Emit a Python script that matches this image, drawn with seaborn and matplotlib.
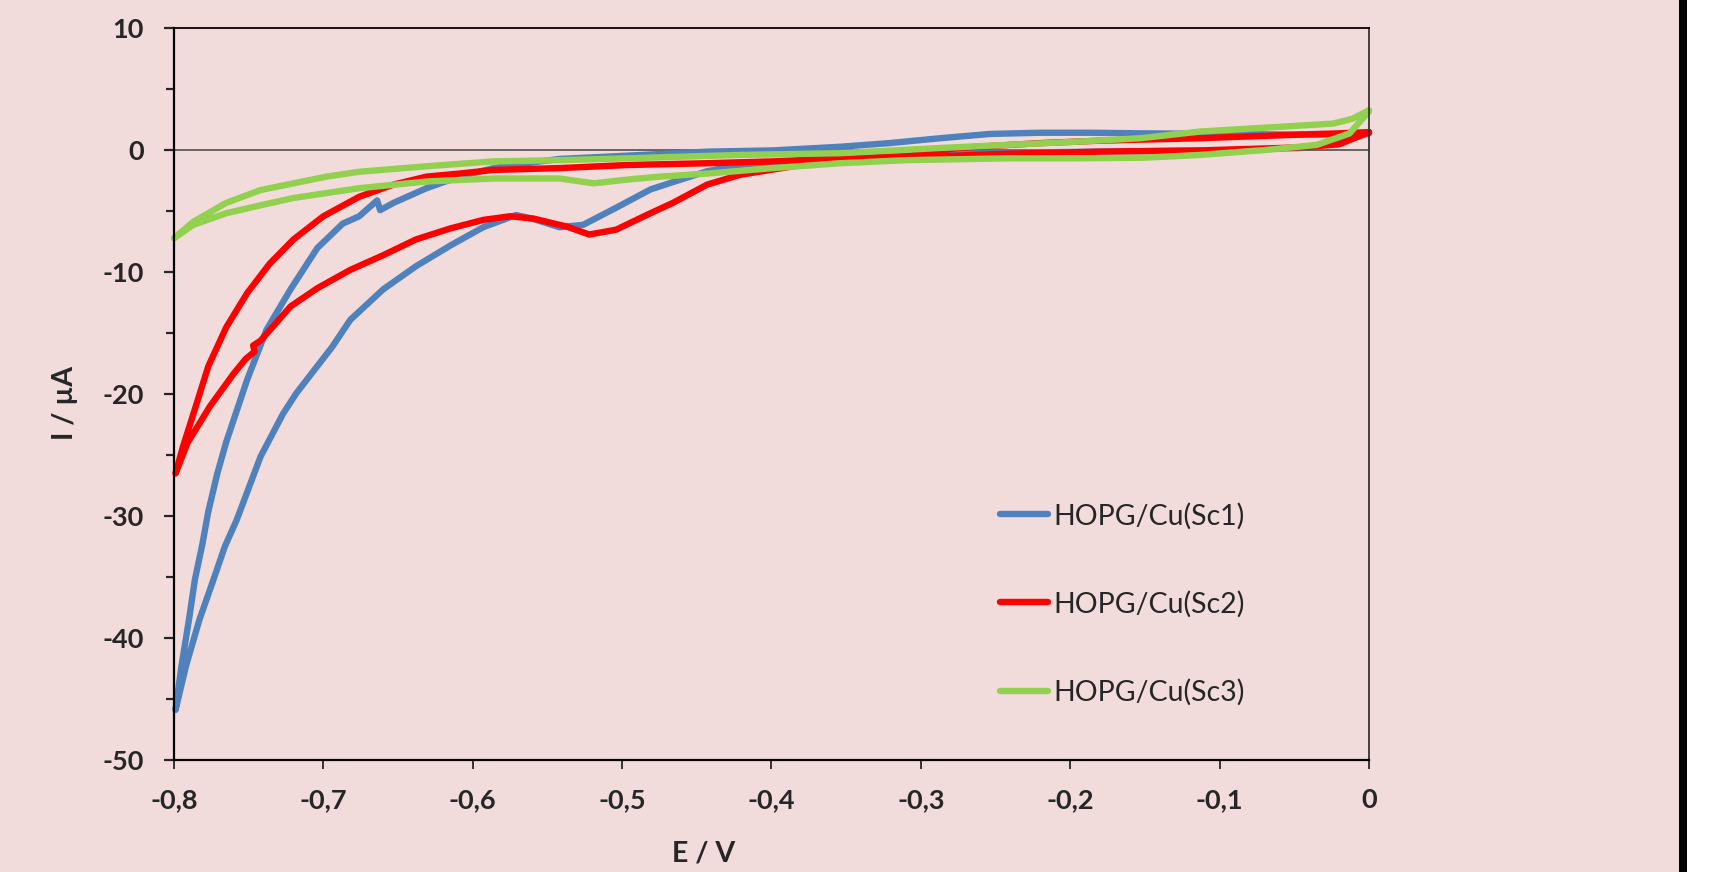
import matplotlib
matplotlib.use('Agg')
import matplotlib.pyplot as plt
from matplotlib.patches import Rectangle
from matplotlib.ticker import MultipleLocator
import pandas as pd
import seaborn as sns


# Sc1 : scan 0 -> -0.8 V, then back -0.8 -> 0 V
sc1_E = [0, -0.013, -0.046, -0.10, -0.18, -0.25, -0.30, -0.376, -0.421, -0.443, -0.466, -0.481,
         -0.504, -0.526, -0.542, -0.560, -0.571, -0.593, -0.615, -0.638, -0.660, -0.682, -0.694,
         -0.718, -0.727, -0.742, -0.758, -0.766, -0.773, -0.783, -0.792, -0.799,
         -0.795, -0.790, -0.786, -0.781, -0.777, -0.771, -0.765, -0.751, -0.738, -0.722, -0.704,
         -0.687, -0.676, -0.664, -0.662, -0.653, -0.631, -0.609, -0.586, -0.564, -0.542, -0.508,
         -0.475, -0.443, -0.399, -0.354, -0.321, -0.287, -0.254, -0.220, -0.187, -0.153, -0.10,
         -0.05, -0.024, 0]
sc1_I = [1.4, 0.9, 0.2, 0.0, -0.1, -0.2, -0.4, -0.8, -1.2, -1.7, -2.6, -3.2,
         -4.7, -6.1, -6.3, -5.6, -5.3, -6.3, -7.8, -9.5, -11.4, -13.9, -16.1,
         -19.9, -21.6, -25.1, -30.3, -32.5, -35.0, -38.5, -42.3, -45.9,
         -42.3, -38.5, -35.2, -32.3, -29.6, -26.5, -23.9, -18.8, -14.7, -11.4, -8.0,
         -6.0, -5.4, -4.1, -4.9, -4.3, -3.1, -2.15, -1.45, -1.05, -0.7, -0.5,
         -0.3, -0.1, 0.0, 0.3, 0.6, 1.0, 1.35, 1.45, 1.45, 1.4, 1.35,
         1.3, 1.3, 1.4]

sc2_E = [0, -0.013, -0.02, -0.046, -0.113, -0.18, -0.25, -0.30, -0.37, -0.421, -0.443, -0.466,
         -0.481, -0.504, -0.522, -0.537, -0.559, -0.575, -0.593, -0.615, -0.638, -0.660, -0.682,
         -0.704, -0.722, -0.742, -0.747, -0.746, -0.752, -0.760, -0.776, -0.791, -0.799,
         -0.794, -0.787, -0.777, -0.765, -0.751, -0.736, -0.720, -0.700, -0.676, -0.653, -0.631,
         -0.609, -0.586, -0.542, -0.497, -0.443, -0.399, -0.354, -0.310, -0.276, -0.220, -0.18,
         -0.113, -0.046, -0.020, 0]
sc2_I = [1.5, 0.85, 0.5, 0.25, 0.0, -0.1, -0.3, -0.55, -1.0, -2.0, -2.8, -4.3,
         -5.15, -6.5, -6.9, -6.25, -5.6, -5.4, -5.7, -6.4, -7.3, -8.6, -9.8,
         -11.3, -12.8, -15.6, -16.0, -16.5, -17.1, -18.3, -21.0, -24.0, -26.5,
         -24.3, -21.6, -17.7, -14.5, -11.7, -9.3, -7.3, -5.4, -3.8, -2.8, -2.15,
         -1.9, -1.6, -1.45, -1.2, -1.05, -0.9, -0.65, -0.5, 0.2, 0.6, 0.8,
         1.0, 1.3, 1.4, 1.5]

sc3_E = [0, -0.013, -0.035, -0.068, -0.113, -0.151, -0.198, -0.243, -0.310, -0.354, -0.399,
         -0.443, -0.475, -0.497, -0.519, -0.542, -0.586, -0.631, -0.676, -0.698, -0.720, -0.742,
         -0.765, -0.787, -0.8,
         -0.787, -0.765, -0.742, -0.720, -0.698, -0.676, -0.631, -0.586, -0.542, -0.497, -0.421,
         -0.354, -0.287, -0.243, -0.198, -0.153, -0.113, -0.058, -0.024, -0.011, 0]
sc3_I = [3.2, 1.4, 0.45, 0.05, -0.37, -0.6, -0.65, -0.65, -0.8, -1.05, -1.45,
         -1.9, -2.15, -2.4, -2.7, -2.3, -2.3, -2.55, -3.1, -3.5, -3.9, -4.5,
         -5.15, -6.1, -7.2,
         -5.85, -4.3, -3.25, -2.7, -2.15, -1.75, -1.3, -0.9, -0.8, -0.65, -0.37,
         -0.23, 0.2, 0.45, 0.7, 1.0, 1.55, 1.95, 2.2, 2.6, 3.3]

series_names = ['HOPG/Cu(Sc1)', 'HOPG/Cu(Sc2)', 'HOPG/Cu(Sc3)']
series_colors = ['#4F81BD', '#FF0000', '#92D050']

x_ticks = [-0.8, -0.7, -0.6, -0.5, -0.4, -0.3, -0.2, -0.1, 0.0]
x_tick_labels = ['-0,8', '-0,7', '-0,6', '-0,5', '-0,4', '-0,3', '-0,2', '-0,1', '0']
y_ticks = [-50, -40, -30, -20, -10, 0, 10]
y_tick_labels = ['-50', '-40', '-30', '-20', '-10', '0', '10']

frames = []
for name, E, I in zip(series_names, [sc1_E, sc2_E, sc3_E], [sc1_I, sc2_I, sc3_I]):
    frames.append(pd.DataFrame({'E': E, 'I': I, 'serie': name}))
df = pd.concat(frames, ignore_index=True)

sns.set_style('white')
plt.rcParams['font.family'] = ['Lato', 'DejaVu Sans']

W, H = 1715, 872
fig = plt.figure(figsize=(W / 100, H / 100), dpi=100)
fig.patch.set_facecolor('white')
bg = '#F2DCDB'
fig.patches.append(Rectangle((0, 0), 1679 / W, 1, transform=fig.transFigure,
                             facecolor=bg, edgecolor='none', zorder=-10))
fig.patches.append(Rectangle((1679 / W, 0), 8 / W, 1, transform=fig.transFigure,
                             facecolor='black', edgecolor='none', zorder=-9))

ax = fig.add_axes([174 / W, 1 - 760 / H, 1195 / W, 731.5 / H])
ax.set_facecolor(bg)

sns.lineplot(data=df, x='E', y='I', hue='serie', palette=series_colors, sort=False,
             estimator=None, linewidth=4.6, ax=ax)
for ln in ax.get_lines():
    ln.set_solid_capstyle('round')
    ln.set_solid_joinstyle('round')
    ln.set_clip_on(False)

ax.axhline(0, color='#444444', linewidth=1.1, zorder=1)

ax.set_xlim(-0.8, 0)
ax.set_ylim(-50, 10)
ax.set_xticks(x_ticks)
ax.set_xticklabels(x_tick_labels)
ax.set_yticks(y_ticks)
ax.set_yticklabels(y_tick_labels)
ax.yaxis.set_minor_locator(MultipleLocator(5))

ax.tick_params(axis='y', which='major', direction='out', length=7.5, width=1.6,
               pad=14, labelsize=19.5, left=True)
ax.tick_params(axis='y', which='minor', direction='out', length=5.5, width=1.6, left=True)
ax.tick_params(axis='x', which='major', direction='out', length=6.5, width=1.3,
               pad=14, labelsize=19.5, bottom=True)
for lab in ax.get_xticklabels() + ax.get_yticklabels():
    lab.set_fontweight('bold')

for side in ['left', 'bottom']:
    ax.spines[side].set_linewidth(1.6)
    ax.spines[side].set_color('black')
ax.spines['top'].set_linewidth(1.3)
ax.spines['top'].set_color('black')
ax.spines['right'].set_linewidth(1.3)
ax.spines['right'].set_color('#333333')

ax.set_xlabel('E / V', fontsize=20.5, fontweight='bold')
ax.xaxis.set_label_coords(0.443, -0.110)
ax.set_ylabel('I / µA', fontsize=20.5, fontweight='bold')
ax.yaxis.set_label_coords(-0.080, 0.488)

ax.legend(loc='center left', bbox_to_anchor=(0.679, 0.2133), frameon=False,
          fontsize=20.5, handlelength=1.7, handletextpad=0.2, labelspacing=2.15,
          borderpad=0)

plt.savefig('out.png', dpi=100, facecolor=fig.get_facecolor())
